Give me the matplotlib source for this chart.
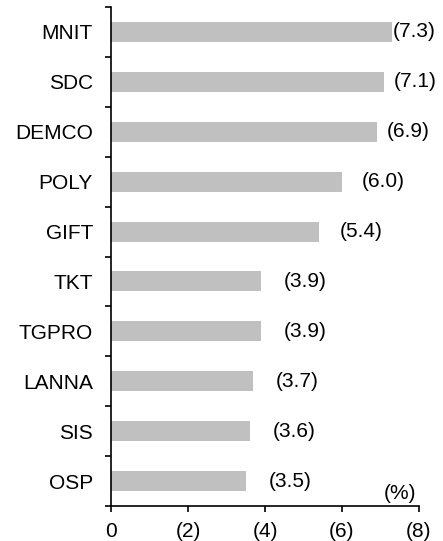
import matplotlib.pyplot as plt
import numpy as np

plt.rcParams["font.family"] = ["Liberation Sans", "DejaVu Sans"]

companies = ["MNIT", "SDC", "DEMCO", "POLY", "GIFT", "TKT", "TGPRO", "LANNA", "SIS", "OSP"]
values = [7.3, 7.1, 6.9, 6.0, 5.4, 3.9, 3.9, 3.7, 3.6, 3.5]
xticks = [0, 2, 4, 6, 8]
xtick_labels = ["0", "(2)", "(4)", "(6)", "(8)"]

# gap (points) between bar end and its label, tighter at the top to fit
label_gap = [0.7, 7, 7, 14, 15, 16, 16, 16, 16.5, 16.5]

fig = plt.figure(figsize=(4.43, 5.41), dpi=100)
ax = fig.add_axes([0.2506, 0.0647, 0.6952, 0.9223])

y = np.arange(len(companies))
ax.barh(y, values, height=0.4, color="#c0c0c0")

for yi, v, gap in zip(y, values, label_gap):
    ax.annotate(f"({v:.1f})", xy=(v, yi), xytext=(gap, 0), textcoords="offset points",
                ha="left", va="center", fontsize=15, color="black")

ax.set_xlim(0, 8)
ax.set_ylim(len(companies) - 0.5, -0.5)

ax.set_xticks(xticks)
ax.set_xticklabels(xtick_labels, fontsize=15)
ax.tick_params(axis="x", direction="out", length=4, width=1.2, pad=7.5)

ax.set_yticks(np.arange(len(companies) + 1) - 0.5)
ax.set_yticklabels([])
ax.tick_params(axis="y", which="major", direction="out", length=4, width=1.2)
ax.set_yticks(y, minor=True)
ax.set_yticklabels(companies, minor=True, fontsize=15)
ax.tick_params(axis="y", which="minor", length=0, pad=13)

for side in ["top", "right"]:
    ax.spines[side].set_visible(False)
for side in ["left", "bottom"]:
    ax.spines[side].set_linewidth(1.2)

ax.text(0.938, 0.025, "(%)", transform=ax.transAxes, ha="center", va="center", fontsize=15)

fig.savefig("out.png", dpi=100)
